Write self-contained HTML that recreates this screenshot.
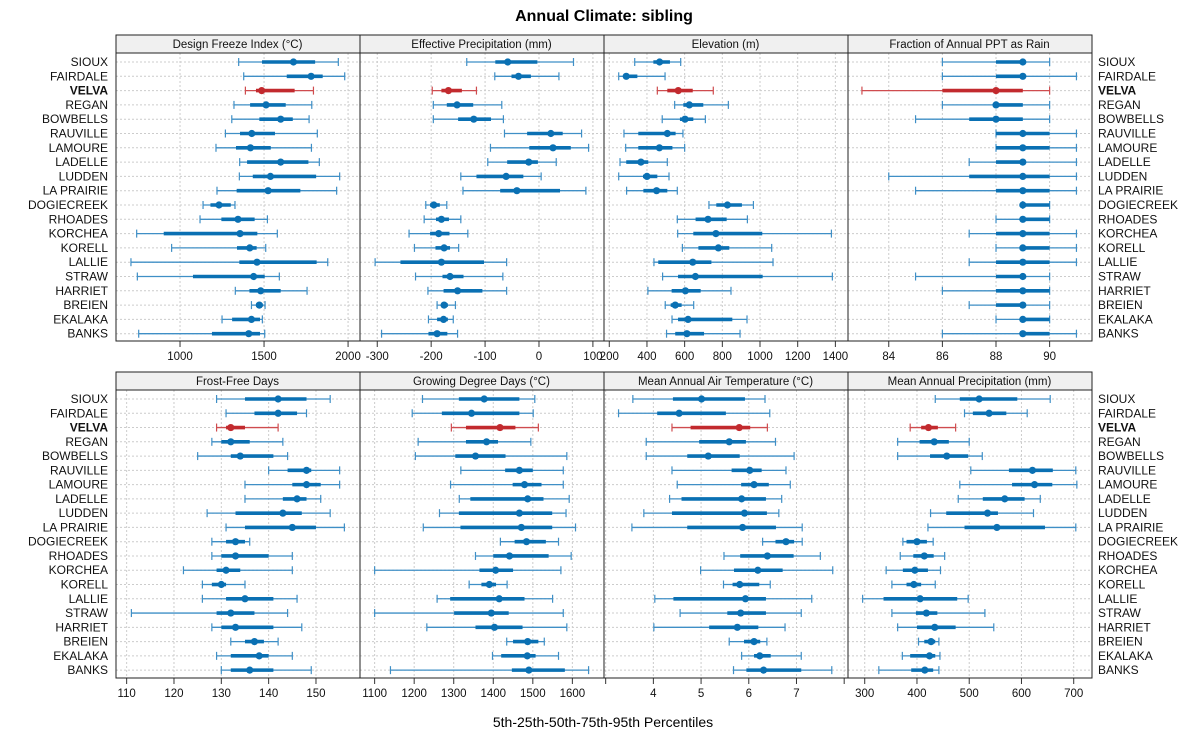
<!DOCTYPE html>
<html><head><meta charset="utf-8"><style>
html,body{margin:0;padding:0;background:#fff;}
svg{display:block;font-family:"Liberation Sans",sans-serif;}
</style></head><body>
<svg id="chart" width="1200" height="750" viewBox="0 0 1200 750" xmlns="http://www.w3.org/2000/svg">
<text x="604" y="21" text-anchor="middle" font-size="16" font-weight="bold">Annual Climate: sibling</text>
<text x="603" y="727" text-anchor="middle" font-size="14">5th-25th-50th-75th-95th Percentiles</text>
<g id="layer"></g>
</svg>
<script>
const sites = ["SIOUX","FAIRDALE","VELVA","REGAN","BOWBELLS","RAUVILLE","LAMOURE","LADELLE","LUDDEN","LA PRAIRIE","DOGIECREEK","RHOADES","KORCHEA","KORELL","LALLIE","STRAW","HARRIET","BREIEN","EKALAKA","BANKS"];
const highlight = "VELVA";
const panelTitles = ["Design Freeze Index (°C)","Effective Precipitation (mm)","Elevation (m)","Fraction of Annual PPT as Rain","Frost-Free Days","Growing Degree Days (°C)","Mean Annual Air Temperature (°C)","Mean Annual Precipitation (mm)"];

const dfiP5 =[1349,1379,1389,1321,1308,1270,1214,1355,1353,1220,1137,1119,742,950,708,746,1329,1425,1250,754];
const dfiP25=[1488,1635,1452,1417,1472,1357,1333,1399,1433,1337,1181,1246,903,1339,1353,1077,1413,1452,1310,1190];
const dfiP50=[1675,1780,1486,1512,1599,1427,1419,1599,1538,1524,1232,1345,1357,1415,1458,1438,1480,1472,1425,1409];
const dfiP75=[1804,1849,1682,1629,1671,1565,1540,1764,1810,1716,1302,1444,1460,1456,1813,1504,1599,1492,1476,1476];
const dfiP95=[1942,1980,1794,1784,1768,1817,1782,1829,1950,1932,1327,1520,1579,1510,1879,1591,1756,1506,1490,1504];

const epP5 =[-134,-82,-198,-196,-196,-64,-90,-95,-145,-141,-210,-213,-241,-231,-304,-229,-206,-189,-205,-292];
const epP25=[-81,-51,-181,-171,-150,-22,-18,-59,-116,-72,-202,-191,-202,-192,-257,-179,-177,-181,-189,-205];
const epP50=[-58,-38,-168,-152,-121,22,26,-19,-61,-41,-195,-181,-186,-176,-181,-165,-151,-176,-177,-189];
const epP75=[-3,-15,-143,-122,-89,44,59,-2,-29,39,-184,-167,-166,-165,-102,-140,-105,-169,-169,-170];
const epP95=[64,37,-116,-69,-66,79,92,32,4,87,-171,-145,-132,-149,-60,-67,-60,-155,-159,-151];

const elP5 =[335,250,455,547,481,278,287,257,250,292,729,561,563,588,437,483,405,497,533,504];
const elP25=[434,274,508,593,575,354,354,290,379,381,768,658,646,673,460,565,531,526,565,550];
const elP50=[467,290,566,625,602,508,466,368,400,451,827,724,766,779,643,657,604,550,618,612];
const elP75=[522,349,643,699,646,552,535,407,455,508,904,823,1012,837,742,1014,685,584,853,703];
const elP95=[579,496,752,832,710,591,600,508,517,561,965,933,1379,1062,1069,1384,846,648,931,894];

const frP5 =[86,86,83,86,85,88,88,87,84,85,89,88,87,88,87,85,86,87,88,86];
const frP25=[88,88,86,88,87,88,88,88,87,88,89,89,88,89,88,88,88,88,89,89];
const frP50=[89,89,88,88,88,89,89,89,89,89,89,89,89,89,89,89,89,89,89,89];
const frP75=[89,89,89,89,89,90,90,89,90,90,90,90,90,90,90,89,90,89,90,90];
const frP95=[90,91,90,90,90,91,91,91,91,91,90,90,91,91,91,90,90,90,90,91];

const ffP5 =[129,131,129,128,125,140,135,135,127,131,128,128,122,126,126,111,128,132,129,130];
const ffP25=[135,137,131,130,132,144,145,143,133,135,131,130,129,128,131,129,130,135,132,132];
const ffP50=[142,142,132,132,134,148,148,146,143,145,133,133,131,130,135,132,133,137,138,136];
const ffP75=[148,146,135,136,141,149,151,148,147,150,135,140,134,131,141,137,141,139,140,141];
const ffP95=[153,148,142,143,144,155,155,151,153,156,136,145,145,135,146,144,147,142,145,149];

const gdP5 =[1221,1195,1294,1210,1203,1318,1292,1314,1264,1223,1418,1355,1100,1339,1258,1100,1232,1434,1398,1140];
const gdP25=[1313,1270,1331,1331,1304,1430,1449,1342,1313,1317,1454,1400,1365,1370,1291,1301,1355,1450,1420,1447];
const gdP50=[1377,1345,1417,1383,1355,1466,1479,1487,1466,1471,1484,1441,1406,1390,1415,1395,1403,1487,1486,1490];
const gdP75=[1466,1466,1456,1412,1431,1500,1522,1527,1549,1549,1533,1540,1450,1407,1479,1439,1474,1514,1507,1581];
const gdP95=[1505,1501,1514,1495,1586,1577,1577,1592,1584,1608,1565,1597,1571,1435,1550,1577,1586,1529,1565,1641];

const atP5 =[3.57,3.27,4.39,3.85,3.85,4.39,4.50,4.34,3.80,3.55,6.29,5.48,4.99,5.47,4.03,4.56,4.01,5.59,5.85,5.68];
const atP25=[4.41,4.08,4.78,4.96,4.71,5.64,5.84,4.59,4.39,4.71,6.56,5.82,5.69,5.66,4.42,5.55,5.17,5.90,6.11,5.95];
const atP50=[5.01,4.54,5.80,5.59,5.15,6.02,6.11,5.85,5.91,5.87,6.78,6.39,6.19,5.81,5.93,5.83,5.76,6.11,6.23,6.31];
const atP75=[5.92,5.52,6.03,5.94,5.81,6.27,6.42,6.36,6.38,6.57,6.95,6.94,6.71,6.22,6.36,6.36,6.20,6.24,6.46,7.10];
const atP95=[6.34,6.44,6.39,6.56,6.95,6.78,6.87,6.69,6.63,7.12,7.12,7.50,7.76,6.45,7.32,7.10,6.76,6.38,7.10,7.74];

const apP5 =[435,491,387,363,363,503,482,479,426,421,373,368,341,352,296,352,363,403,372,327];
const apP25=[482,507,408,405,425,576,582,526,456,491,380,393,373,380,336,398,400,414,387,389];
const apP50=[519,538,422,433,457,621,625,568,535,553,400,414,396,394,406,418,434,427,424,415];
const apP75=[592,571,440,461,498,660,659,606,555,645,419,432,421,408,477,439,474,435,435,431];
const apP95=[655,611,474,500,525,704,706,636,623,704,431,453,445,435,498,530,547,442,444,442];

const dfiTicks=[1000,1500,2000];
const epTicks=[-300,-200,-100,0,100];
const elTicks=[200,400,600,800,1000,1200,1400];
const frTicks=[84,86,88,90];
const ffTicks=[110,120,130,140,150];
const gdTicks=[1100,1200,1300,1400,1500,1600];
const atTicks=[3,4,5,6,7,8];
const atTickLabels=["","4","5","6","7",""];
const apTicks=[300,400,500,600,700];

const domains=[[619,2071],[-332,120.6],[172,1467],[82.48,91.58],[107.75,159.3],[1063,1680],[2.965,8.08],[268,735]];

const panels=[
 {p:[dfiP5,dfiP25,dfiP50,dfiP75,dfiP95],t:dfiTicks},
 {p:[epP5,epP25,epP50,epP75,epP95],t:epTicks},
 {p:[elP5,elP25,elP50,elP75,elP95],t:elTicks},
 {p:[frP5,frP25,frP50,frP75,frP95],t:frTicks},
 {p:[ffP5,ffP25,ffP50,ffP75,ffP95],t:ffTicks},
 {p:[gdP5,gdP25,gdP50,gdP75,gdP95],t:gdTicks},
 {p:[atP5,atP25,atP50,atP75,atP95],t:atTicks,tl:atTickLabels},
 {p:[apP5,apP25,apP50,apP75,apP95],t:apTicks}
];

const NS="http://www.w3.org/2000/svg";
const layer=document.getElementById('layer');
function mk(tag,attrs,parent){const e=document.createElementNS(NS,tag);for(const k in attrs)e.setAttribute(k,attrs[k]);(parent||layer).appendChild(e);return e;}

const lefts=[116,360,604,848], W=243;
const rowsCfg=[{stripTop:35,plotTop:53,plotBot:341,y0:62,dy:14.3},{stripTop:372,plotTop:390,plotBot:678,y0:399,dy:14.27}];
const BLUE="#0a70b3", BLUE_L="#3f8fc6", RED="#c22a2e", RED_L="#cf4c4f";

panels.forEach((pn,k)=>{
  const col=k%4,row=Math.floor(k/4),L=lefts[col],cfg=rowsCfg[row];
  const [d0,d1]=domains[k];
  const xs=v=>L+(v-d0)/(d1-d0)*(W+1);
  const yOf=i=>cfg.y0+i*cfg.dy;
  const g=mk('g',{});
  
  
  const strip=mk('rect',{x:L,y:cfg.stripTop,width:W+1,height:cfg.plotTop-cfg.stripTop,fill:'#f0f0f0',stroke:'#222','stroke-width':1},g);
  
  
  const st=mk('text',{x:L+W/2,y:cfg.stripTop+13,'text-anchor':'middle','font-size':11.5,fill:'#111'},g);
  st.textContent=panelTitles[k];
  
  
  // grid
  pn.t.forEach(t=>{const x=xs(t);if(x>L&&x<L+W)mk('line',{x1:x,x2:x,y1:cfg.plotTop,y2:cfg.plotBot,stroke:'#ccc','stroke-dasharray':'2,2','stroke-width':1},g);});
  sites.forEach((s,i)=>{mk('line',{x1:L,x2:L+W,y1:yOf(i),y2:yOf(i),stroke:'#ccc','stroke-dasharray':'2,2','stroke-width':1},g);});
  // ticks
  pn.t.forEach((t,j)=>{const x=xs(t);
    mk('line',{x1:x,x2:x,y1:cfg.plotBot,y2:cfg.plotBot+6,stroke:'#333','stroke-width':1},g);
    const lab=pn.tl?pn.tl[j]:String(t);
    if(lab){const tx=mk('text',{x:x,y:cfg.plotBot+19,'text-anchor':'middle','font-size':11.5,fill:'#111'},g);tx.textContent=lab;
      
      }
  });
  // marks
  sites.forEach((s,i)=>{
    const y=yOf(i),hi=s===highlight,c=hi?RED:BLUE,cl=hi?RED_L:BLUE_L;
    const [a,b,m,d,e]=pn.p.map(arr=>xs(arr[i]));
    const mg=mk('g',{},g);
    
    
    mk('line',{x1:a,x2:e,y1:y,y2:y,stroke:cl,'stroke-width':1.3},mg);
    mk('line',{x1:a,x2:a,y1:y-4,y2:y+4,stroke:cl,'stroke-width':1.2},mg);
    mk('line',{x1:e,x2:e,y1:y-4,y2:y+4,stroke:cl,'stroke-width':1.2},mg);
    mk('line',{x1:b,x2:d,y1:y,y2:y,stroke:c,'stroke-width':3.6},mg);
    mk('circle',{cx:m,cy:y,r:3.6,fill:c},mg);
  });
  const fr=mk('rect',{x:L,y:cfg.plotTop,width:W+1,height:cfg.plotBot-cfg.plotTop,fill:'none',stroke:'#222','stroke-width':1},g);
  
  
});

// site labels
rowsCfg.forEach((cfg,r)=>{
  sites.forEach((s,i)=>{
    const y=cfg.y0+i*cfg.dy+4;
    const l=mk('text',{x:108,y:y,'text-anchor':'end','font-size':12,fill:'#111','font-weight':s===highlight?'bold':'normal'});
    l.textContent=s;
    
    
    const rt=mk('text',{x:1098,y:y,'text-anchor':'start','font-size':12,fill:'#111','font-weight':s===highlight?'bold':'normal'});
    rt.textContent=s;
    
    
  });
});
</script>
</body></html>
